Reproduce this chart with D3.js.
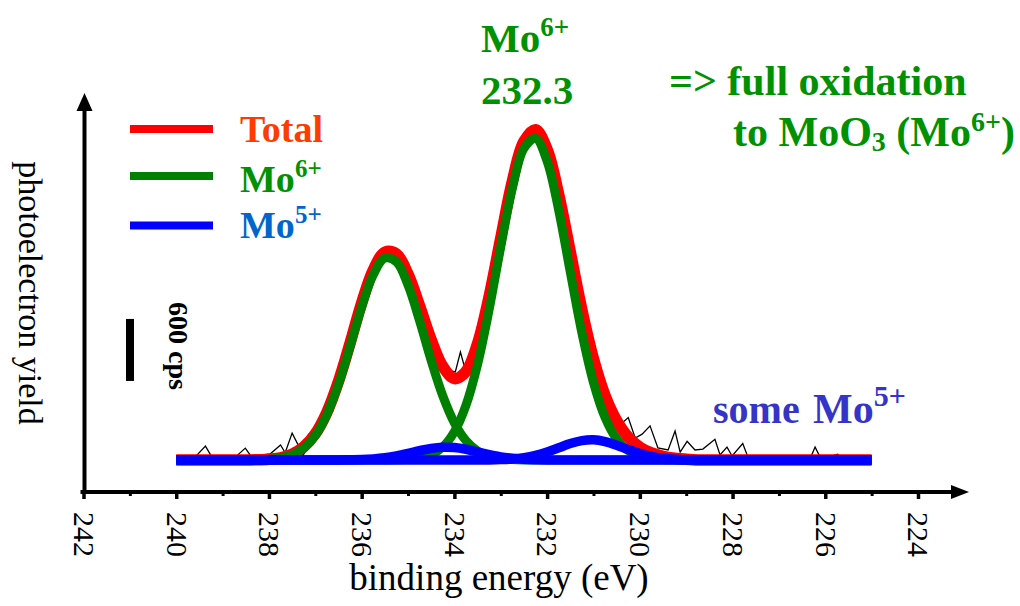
<!DOCTYPE html>
<meta charset="utf-8">
<style>
  body { margin: 0; background: #fff; }
  svg { font-family: "Liberation Serif", "Times New Roman", serif; }
  .tick line { stroke: #000; }
  .tick text { font-size: 30px; fill: #000; }
  .lbl { font-weight: bold; }
</style>
<body>
<div id="xps"></div>
<script src="https://cdn.jsdelivr.net/npm/d3@7/dist/d3.min.js"></script>
<script>

// fitted curves, sampled every 0.25 eV (cps above background)
var fitEnergy = [240, 239.75, 239.5, 239.25, 239, 238.75, 238.5, 238.25, 238, 237.75,
  237.5, 237.25, 237, 236.75, 236.5, 236.25, 236, 235.75, 235.5, 235.25,
  235, 234.75, 234.5, 234.25, 234, 233.75, 233.5, 233.25, 233, 232.75,
  232.5, 232.25, 232, 231.75, 231.5, 231.25, 231, 230.75, 230.5, 230.25,
  230, 229.75, 229.5, 229.25, 229, 228.75, 228.5, 228.25, 228, 227.75,
  227.5, 227.25, 227, 226.75, 226.5, 226.25, 226, 225.75, 225.5, 225.25, 225];

var mo6_52 = [0, 0, 0, 0, 0, 0, 0, 0, 0, 0,
  0, 0, 0, 0, 0, 0, 0, 0, 1, 2,
  7, 20, 53, 126, 273, 530, 926, 1458, 2064, 2630,
  3016, 3113, 2892, 2417, 1819, 1231, 750, 411, 203, 90,
  36, 13, 4, 1, 0, 0, 0, 0, 0, 0,
  0, 0, 0, 0, 0, 0, 0, 0, 0, 0, 0];

var mo6_32 = [0, 0, 0, 0, 0, 0, 1, 2, 7, 20,
  51, 117, 239, 442, 735, 1099, 1480, 1793, 1954, 1918,
  1693, 1346, 962, 620, 359, 187, 88, 37, 14, 5,
  1, 0, 0, 0, 0, 0, 0, 0, 0, 0,
  0, 0, 0, 0, 0, 0, 0, 0, 0, 0,
  0, 0, 0, 0, 0, 0, 0, 0, 0, 0, 0];

var mo5_52 = [0, 0, 0, 0, 0, 0, 0, 0, 0, 0,
  0, 0, 0, 0, 0, 0, 0, 0, 0, 0,
  0, 0, 0, 0, 0, 0, 0, 1, 4, 10,
  23, 45, 78, 118, 159, 187, 195, 178, 143, 101,
  63, 35, 17, 7, 3, 1, 0, 0, 0, 0,
  0, 0, 0, 0, 0, 0, 0, 0, 0, 0, 0];

var mo5_32 = [0, 0, 0, 0, 0, 0, 0, 0, 0, 0,
  0, 0, 0, 0, 1, 2, 4, 10, 21, 39,
  63, 90, 113, 124, 121, 104, 78, 52, 30, 16,
  7, 3, 1, 0, 0, 0, 0, 0, 0, 0,
  0, 0, 0, 0, 0, 0, 0, 0, 0, 0,
  0, 0, 0, 0, 0, 0, 0, 0, 0, 0, 0];

var total = [0, 0, 0, 0, 0, 0, 1, 2, 7, 20,
  56, 127, 254, 462, 761, 1131, 1519, 1838, 2011, 1994,
  1798, 1491, 1163, 905, 788, 856, 1127, 1583, 2147, 2696,
  3082, 3196, 3006, 2570, 2013, 1453, 980, 624, 381, 221,
  124, 68, 36, 18, 8, 1, 0, 0, 0, 0,
  0, 0, 0, 0, 0, 0, 0, 0, 0, 0, 0];

// measured spectrum
var rawEnergy = [240.0, 239.59, 239.37, 239.22, 238.72, 238.51, 238.36, 238.14, 237.97, 237.75,
  237.65, 237.5, 237.26, 237.06, 236.85, 236.63, 236.5, 236.25, 236.12, 236.0,
  235.75, 235.5, 235.25, 235.0, 234.75, 234.41, 234.16, 233.98, 233.87, 233.77,
  233.59, 233.25, 233.0, 232.75, 232.5, 232.25, 232.0, 231.75, 231.5, 231.25,
  231.0, 230.69, 230.38, 230.25, 230.1, 229.95, 229.78, 229.61, 229.39, 229.24,
  229.13, 228.98, 228.81, 228.64, 228.38, 228.27, 228.12, 228.01, 227.78, 227.67,
  227.19, 226.76, 226.33, 226.22, 226.09, 225.73, 225.62, 225.0];
var rawCps = [20, 30, 135, 20, 30, 115, 20, 50, 60, 145,
  70, 260, 50, 195, 465, 465, 660, 1084, 1258, 1500,
  1830, 2000, 1990, 1790, 1480, 1113, 871, 852, 1045, 881,
  1050, 1580, 2150, 2690, 3080, 3190, 3000, 2570, 2010, 1450,
  980, 650, 358, 410, 213, 250, 330, 116, 97, 280,
  77, 180, 97, 106, 200, 48, 125, 39, 160, 29,
  10, 20, 10, 125, 10, 55, 0, 10];

var majorTicks = [242, 240, 238, 236, 234, 232, 230, 228, 226, 224];
var minorTicks = [241, 239, 237, 235, 233, 231, 229, 227, 225];
var scaleBarCps = 600;

var width = 1020, height = 606;

var svg = d3.select("#xps").append("svg")
            .attr("width", width)
            .attr("height", height);

var x = d3.scaleLinear().domain([242, 224]).range([83.5, 918]);
var y = d3.scaleLinear().domain([0, 3000]).range([460, 150]);
var axisY = 492;

var line = d3.line()
             .x(function(d) { return x(d[0]); })
             .y(function(d) { return y(d[1]); })
             .curve(d3.curveCatmullRom.alpha(0.5));

function pairs(ys) { return fitEnergy.map(function(e, i) { return [e, ys[i]]; }); }

// raw data underneath
svg.append("path")
   .datum(rawEnergy.map(function(e, i) { return [e, rawCps[i]]; }))
   .attr("d", d3.line().x(function(d) { return x(d[0]); }).y(function(d) { return y(d[1]); }))
   .style("fill", "none")
   .style("stroke", "#000")
   .style("stroke-width", 1.3)
   .style("stroke-linejoin", "miter");

var curves = [
  {ys: total, color: "#ff0000", w: 11.5},
  {ys: mo6_32, color: "#008000", w: 9},
  {ys: mo6_52, color: "#008000", w: 9},
  {ys: mo5_32, color: "#0000ff", w: 9.5},
  {ys: mo5_52, color: "#0000ff", w: 9.5}
];

svg.append("g").selectAll("path")
   .data(curves)
   .enter().append("path")
    .attr("d", function(d) { return line(pairs(d.ys)); })
    .style("fill", "none")
    .style("stroke", function(d) { return d.color; })
    .style("stroke-width", function(d) { return d.w; })
    .style("stroke-linejoin", "round");

// x axis: major + minor ticks
var gx = svg.append("g").attr("transform", "translate(0," + axisY + ")");
gx.call(d3.axisBottom(x).tickValues(majorTicks).tickSize(7).tickFormat(d3.format("d")))
  .call(function(g) { g.select(".domain").remove(); });
gx.selectAll(".tick line").style("stroke-width", 3.5);
gx.selectAll(".tick text")
  .attr("transform", "rotate(90)")
  .attr("x", 20)
  .attr("y", 0)
  .attr("dy", "0.34em")
  .style("text-anchor", "start")
  .style("font-family", "Liberation Serif, Times New Roman, serif");

var gm = svg.append("g").attr("transform", "translate(0," + axisY + ")");
gm.call(d3.axisBottom(x).tickValues(minorTicks).tickSize(4).tickFormat(function() { return ""; }))
  .call(function(g) { g.select(".domain").remove(); });
gm.selectAll(".tick line").style("stroke-width", 3);

svg.append("line")
   .attr("x1", x(242) - 3).attr("x2", 955)
   .attr("y1", axisY).attr("y2", axisY)
   .style("stroke", "#000").style("stroke-width", 4);
svg.append("path")
   .attr("d", "M951," + (axisY - 7) + "L969," + axisY + "L951," + (axisY + 7) + "Z")
   .style("fill", "#000");

var yx = x(242) + 1;
svg.append("line")
   .attr("x1", yx).attr("x2", yx)
   .attr("y1", axisY + 2).attr("y2", 106)
   .style("stroke", "#000").style("stroke-width", 4);
svg.append("path")
   .attr("d", "M" + (yx - 8) + ",111L" + yx + ",93L" + (yx + 8) + ",111Z")
   .style("fill", "#000");

// axis titles
svg.append("text")
   .attr("x", 499).attr("y", 590)
   .style("text-anchor", "middle")
   .style("font-size", "37px")
   .text("binding energy (eV)");

svg.append("text")
   .attr("transform", "translate(19,293) rotate(90)")
   .style("text-anchor", "middle")
   .style("font-size", "34px")
   .text("photoelectron yield");

// scale bar
var barBase = 765;
svg.append("rect")
   .attr("x", 126).attr("width", 8)
   .attr("y", y(barBase + scaleBarCps))
   .attr("height", y(barBase) - y(barBase + scaleBarCps))
   .style("fill", "#000");
svg.append("text")
   .attr("class", "lbl")
   .attr("transform", "translate(169,302) rotate(90)")
   .style("font-size", "28px")
   .text("600 cps");

// legend
var legend = [
  {name: "Total", sup: "", line: "#ff0000", txt: "#ff3c00", ly: 129, ty: 142},
  {name: "Mo", sup: "6+", line: "#008000", txt: "#009100", ly: 176, ty: 192},
  {name: "Mo", sup: "5+", line: "#0000ff", txt: "#0066cc", ly: 225.5, ty: 238}
];
legend.forEach(function(d) {
  svg.append("line")
     .attr("x1", 130).attr("x2", 213)
     .attr("y1", d.ly).attr("y2", d.ly)
     .style("stroke", d.line).style("stroke-width", 8);
  var t = svg.append("text")
     .attr("class", "lbl")
     .attr("x", 240).attr("y", d.ty)
     .style("font-size", "38px")
     .style("fill", d.txt);
  t.append("tspan").text(d.name);
  if (d.sup) t.append("tspan").attr("dy", -15).style("font-size", "25px").text(d.sup);
});

// annotations
var green = "#009100";
var a1 = svg.append("text").attr("class", "lbl").attr("x", 481).attr("y", 52)
            .style("font-size", "41px").style("fill", green);
a1.append("tspan").text("Mo");
a1.append("tspan").attr("dy", -16).style("font-size", "27px").text("6+");

svg.append("text").attr("class", "lbl").attr("x", 481).attr("y", 104)
   .style("font-size", "41px").style("fill", green)
   .text("232.3");

svg.append("text").attr("class", "lbl").attr("x", 669).attr("y", 95)
   .style("font-size", "42px").style("fill", green)
   .text("=> full oxidation");

var a2 = svg.append("text").attr("class", "lbl").attr("x", 733).attr("y", 146)
            .style("font-size", "42px").style("fill", green);
a2.append("tspan").text("to MoO");
a2.append("tspan").attr("dy", 5).style("font-size", "28px").text("3");
a2.append("tspan").attr("dy", -5).text(" (Mo");
a2.append("tspan").attr("dy", -15).style("font-size", "28px").text("6+");
a2.append("tspan").attr("dy", 15).text(")");

var a3 = svg.append("text").attr("class", "lbl").attr("y", 423)
            .style("font-size", "40px").style("fill", "#3434c8");
a3.append("tspan").attr("x", 713).text("some");
a3.append("tspan").attr("x", 813).style("font-size", "42px").text("Mo");
a3.append("tspan").attr("dy", -17).style("font-size", "30px").text("5+");

</script>
</body>
